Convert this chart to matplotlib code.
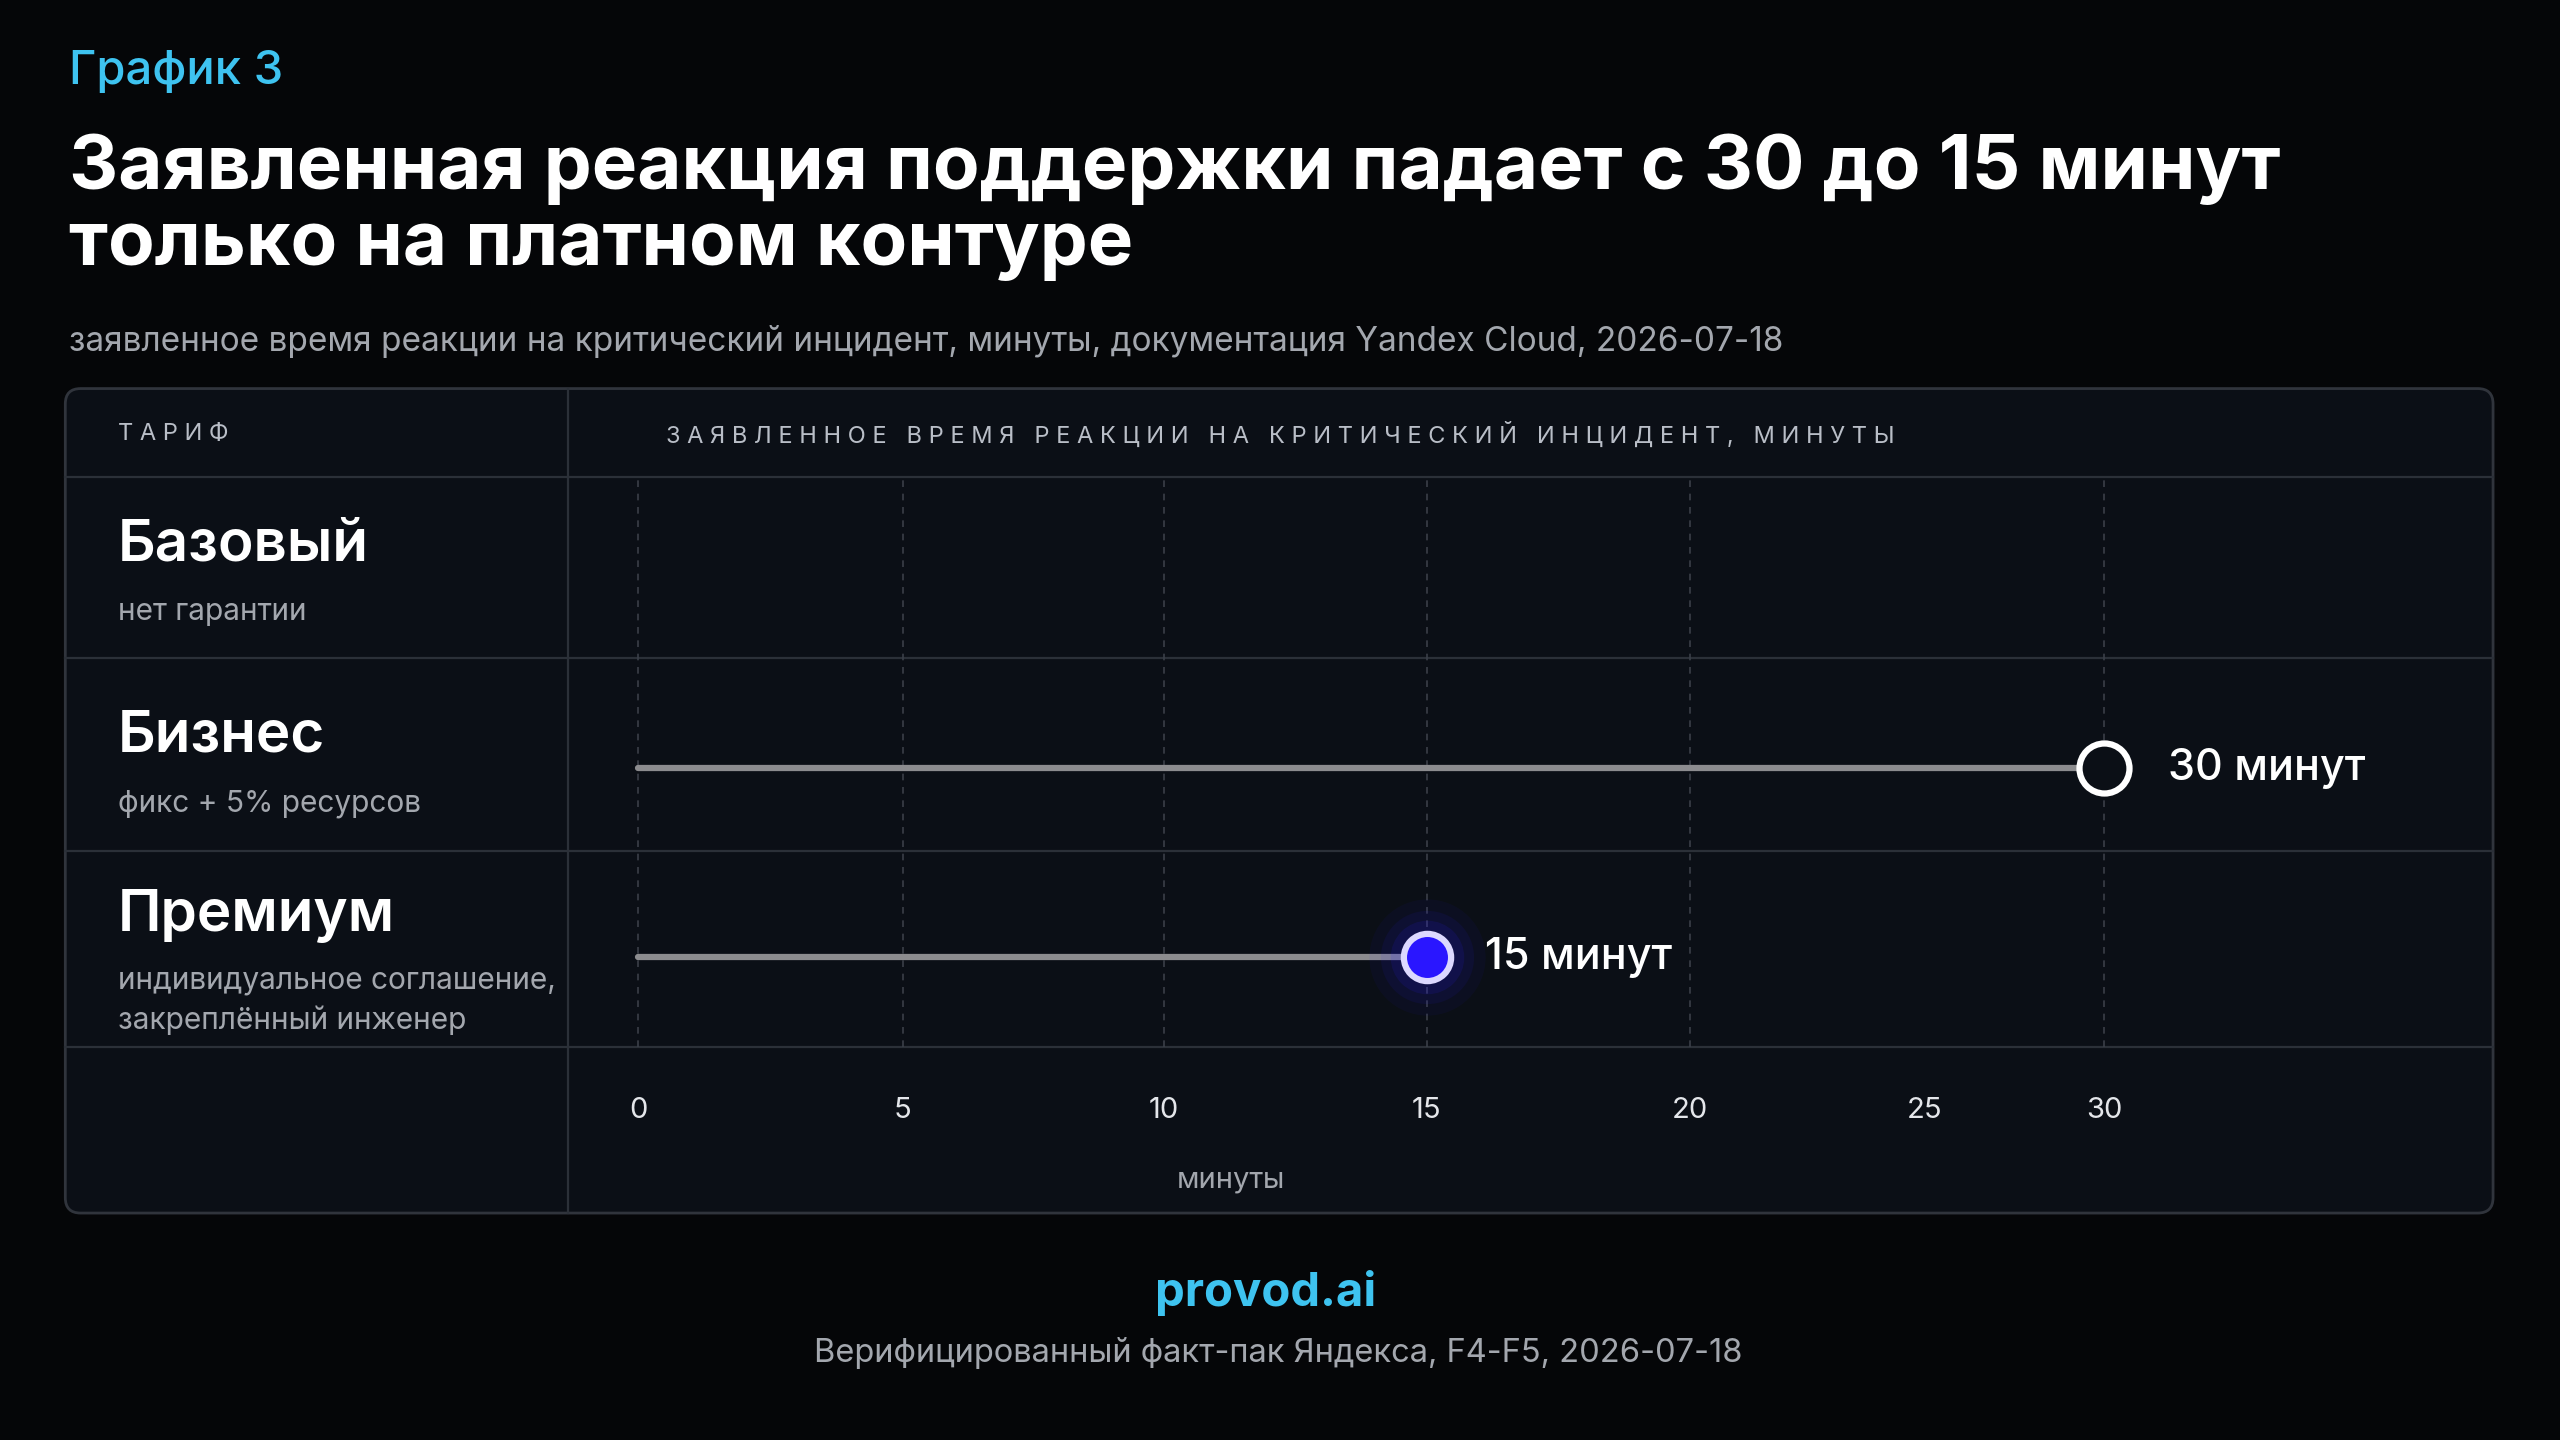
import numpy as np
import matplotlib.pyplot as plt
from matplotlib.patches import FancyBboxPatch
from matplotlib.lines import Line2D

plt.rcParams['font.family'] = ['Inter', 'DejaVu Sans']

# data
tariffs = ['Базовый', 'Бизнес', 'Премиум']
tariff_notes = ['нет гарантии', 'фикс + 5% ресурсов', 'индивидуальное соглашение,\nзакреплённый инженер']
reaction_min = [None, 30, 15]
value_labels = ['', '30 минут', '15 минут']
tick_vals = [0, 5, 10, 15, 20, 25, 30]
grid_vals = [0, 5, 10, 15, 20, 30]
# the reference axis is not evenly spaced: tick value -> relative position
tick_pos = [391, 553, 713, 874, 1035, 1179, 1289]

W, H = 1568, 882  # reference layout units
def fx(x): return x / W
def fy(y): return 1 - y / H

BG = '#050608'
PANEL = '#0b0f16'
LINE = '#2b3038'

fig = plt.figure(figsize=(25.6, 14.4), dpi=100, facecolor=BG)

fig.text(fx(42), fy(44), 'График 3', color='#3ec3f0', fontsize=34, fontweight='medium', va='center')
fig.text(fx(42), fy(127), 'Заявленная реакция поддержки падает с 30 до 15 минут\nтолько на платном контуре',
         color='white', fontsize=55, fontweight='bold', va='center', linespacing=1.1)
fig.text(fx(42), fy(209), 'заявленное время реакции на критический инцидент, минуты, документация Yandex Cloud, 2026-07-18',
         color='#a3a7ae', fontsize=24, va='center')

# table panel
box = FancyBboxPatch((fx(40), fy(743)), fx(1527) - fx(40), fy(238) - fy(743),
                     boxstyle='round,pad=0,rounding_size=0.006', mutation_aspect=2560 / 1440,
                     transform=fig.transFigure, facecolor=PANEL, edgecolor='#30343c', lw=2, zorder=-2)
fig.patches.append(box)

for y in [292, 403, 521, 641]:
    fig.add_artist(Line2D([fx(40), fx(1527)], [fy(y), fy(y)], color=LINE, lw=1.6,
                          transform=fig.transFigure, zorder=-1))
fig.add_artist(Line2D([fx(348), fx(348)], [fy(238), fy(743)], color=LINE, lw=1.6,
                      transform=fig.transFigure, zorder=-1))

fig.text(fx(72), fy(266), 'Т А Р И Ф', color='#b9bec7', fontsize=17, va='center')
fig.text(fx(408), fy(266), 'З А Я В Л Е Н Н О Е   В Р Е М Я   Р Е А К Ц И И   Н А   К Р И Т И Ч Е С К И Й   И Н Ц И Д Е Н Т ,   М И Н У Т Ы',
         color='#b9bec7', fontsize=17, va='center')

name_y = [334, 451, 561]
note_y = [375, 492, 613]
for i, t in enumerate(tariffs):
    fig.text(fx(72), fy(name_y[i]), t, color='white', fontsize=42, fontweight='semibold', va='center')
    fig.text(fx(72), fy(note_y[i]), tariff_notes[i], color='#a3a7ae', fontsize=21.5, va='center', linespacing=1.45)

# chart area with piecewise scale
kv = [-10] + tick_vals + [60]
kp = [tick_pos[0] - 10 * 32.4] + tick_pos + [tick_pos[-1] + 30 * 22.0]
fwd = lambda v: np.interp(v, kv, kp)
inv = lambda p: np.interp(p, kp, kv)

ax = fig.add_axes([fx(348), fy(641), fx(1527) - fx(348), fy(292) - fy(641)])
ax.set_xscale('function', functions=(fwd, inv))
ax.set_xlim(inv(348), inv(1527))
ax.set_ylim(3, 0)
ax.set_facecolor('none')
for s in ax.spines.values():
    s.set_visible(False)
ax.set_yticks([])
ax.set_xticks(tick_vals)
ax.set_xticklabels([str(v) for v in tick_vals], color='#e4e6ea', fontsize=21)
ax.tick_params(axis='x', length=0, pad=36)
ax.set_xlabel('минуты', color='#a3a7ae', fontsize=21)
ax.xaxis.set_label_coords((754 - 348) / (1527 - 348), -0.21)

for g in grid_vals:
    ax.axvline(g, color='#3a3f48', lw=1.2, ls=(0, (4, 4)), zorder=1)

rows_y = [0.5, 1.5 + 0.035, 2.5 + 0.03]
for i, v in enumerate(reaction_min):
    if v is None:
        continue
    y = rows_y[i]
    ax.plot([0, v], [y, y], color='#8c8c8f', lw=4.5, solid_capstyle='round', zorder=2)
    if i == 2:
        for s, a in [(7000, 0.05), (4500, 0.08), (2800, 0.12)]:
            ax.scatter([v], [y], s=s, color='#2b1cff', alpha=a, lw=0, zorder=3)
        ax.plot(v, y, 'o', ms=34, mfc='#2a16ff', mec='#dcd8ff', mew=4.5, zorder=4)
        ax.annotate(value_labels[i], (v, y), xytext=(42, 0), textcoords='offset points',
                    color='white', fontsize=31, fontweight='medium', va='center')
    else:
        ax.plot(v, y, 'o', ms=36, mfc=PANEL, mec='white', mew=4.5, zorder=4)
        ax.annotate(value_labels[i], (v, y), xytext=(46, 0), textcoords='offset points',
                    color='white', fontsize=31, fontweight='medium', va='center')

fig.text(fx(775), fy(792), 'provod.ai', color='#3ec3f0', fontsize=34, fontweight='bold', ha='center', va='center')
fig.text(fx(783), fy(829), 'Верифицированный факт-пак Яндекса, F4-F5, 2026-07-18',
         color='#a3a7ae', fontsize=23.5, ha='center', va='center')

fig.savefig('out.png', dpi=100, facecolor=BG)
